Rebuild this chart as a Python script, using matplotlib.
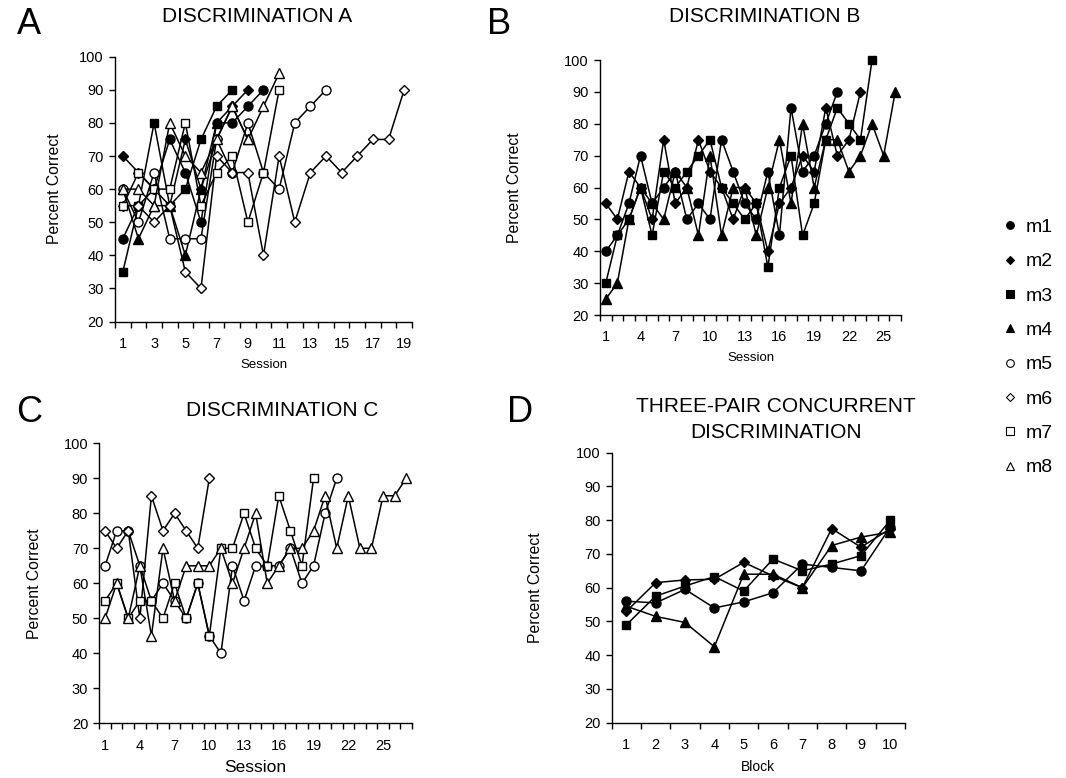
import numpy as np
import matplotlib
matplotlib.use("Agg")
import matplotlib.pyplot as plt
from matplotlib.lines import Line2D

plt.rcParams['font.family'] = ['Liberation Sans', 'DejaVu Sans']

# ---- Discrimination A (sessions) ----
a_m1 = [45, 55, 60, 75, 65, 50, 80, 80, 85, 90]
a_m2 = [70, 65, 60, 55, 75, 60, 75, 85, 90]
a_m3 = [35, 55, 80, 55, 60, 75, 85, 90]
a_m4 = [60, 45, 55, 55, 40, 60, 80, 85, 75]
a_m5 = [60, 50, 65, 45, 45, 45, 75, 65, 80, 65, 60, 80, 85, 90]
a_m6 = [55, 55, 50, 55, 35, 30, 70, 65, 65, 40, 70, 50, 65, 70, 65, 70, 75, 75, 90]
a_m7 = [55, 65, 60, 60, 80, 55, 65, 70, 50, 65, 90]
a_m8 = [60, 60, 55, 80, 70, 65, 75, 85, 75, 85, 95]

# ---- Discrimination B (sessions) ----
b_m1 = [40, 45, 55, 70, 55, 60, 65, 50, 55, 50, 75, 65, 55, 50, 65, 45, 85, 65, 70, 80, 90]
b_m2 = [55, 50, 65, 60, 50, 75, 55, 60, 75, 65, 60, 50, 60, 55, 40, 55, 60, 70, 65, 85, 70, 75, 90]
b_m3 = [30, 45, 50, 60, 45, 65, 60, 65, 70, 75, 60, 55, 50, 55, 35, 60, 70, 45, 55, 75, 85, 80,
        75, 100]
b_m4 = [25, 30, 50, 60, 55, 50, 65, 60, 45, 70, 45, 60, 60, 45, 60, 75, 55, 80, 60, 75, 75, 65,
        70, 80, 70, 90]

# ---- Discrimination C (sessions) ----
c_m5 = [65, 75, 75, 65, 55, 60, 55, 50, 60, 45, 40, 65, 55, 65, 65, 65, 70, 60, 65, 80, 90]
c_m6 = [75, 70, 75, 50, 85, 75, 80, 75, 70, 90]
c_m7 = [55, 60, 50, 55, 55, 50, 60, 50, 60, 45, 70, 70, 80, 70, 65, 85, 75, 65, 90]
c_m8 = [50, 60, 50, 65, 45, 70, 55, 65, 65, 65, 70, 60, 70, 80, 60, 65, 70, 70, 75, 85, 70, 85,
        70, 70, 85, 85, 90]

# ---- Three-pair concurrent discrimination (blocks) ----
d_m1 = [56, 55.5, 59.5, 54, 55.8, 58.5, 67, 66, 65, 78]
d_m2 = [53, 61.5, 62.3, 62.5, 67.5, 63.5, 60, 77.5, 72, 77.5]
d_m3 = [49, 57.5, 60.5, 63.3, 59, 68.5, 65, 67, 69.5, 80]
d_m4 = [54.5, 51.5, 49.7, 42.5, 64, 64, 60, 72.5, 75, 76.5]

subjects = ['m1', 'm2', 'm3', 'm4', 'm5', 'm6', 'm7', 'm8']

# marker style per subject
styles = {
    'm1': ('o', True), 'm2': ('D', True), 'm3': ('s', True), 'm4': ('^', True),
    'm5': ('o', False), 'm6': ('D', False), 'm7': ('s', False), 'm8': ('^', False),
}
msize = {'o': 6.5, 'D': 5.2, 's': 6.0, '^': 6.5}

W, H = 1066, 778
fig = plt.figure(figsize=(W / 100, H / 100), dpi=100)


def px_axes(x0, x1, ytop, ybot):
    return fig.add_axes([x0 / W, 1 - ybot / H, (x1 - x0) / W, (ybot - ytop) / H])


def draw(ax, series, n, label_pos, xlabel, xlab_fs):
    for name, vals in series:
        mk, filled = styles[name]
        x = np.arange(1, len(vals) + 1)
        ax.plot(x, vals, color='black', lw=1.1, marker=mk, ms=msize[mk],
                mfc='black' if filled else 'white', mec='black', mew=1.0,
                clip_on=False, zorder=3)
    ax.set_xlim(0.5, n + 0.5)
    ax.set_ylim(20, 100)
    ax.set_yticks(range(20, 101, 10))
    # category axis: ticks between categories, labels centred on them
    ax.set_xticks(np.arange(0.5, n + 1, 1.0))
    ax.set_xticklabels([])
    ax.set_xticks(label_pos, minor=True)
    ax.set_xticklabels([str(v) for v in label_pos], minor=True)
    ax.tick_params(axis='x', which='major', direction='out', length=4, width=1)
    ax.tick_params(axis='x', which='minor', length=0, pad=11, labelsize=10.5)
    ax.tick_params(axis='y', direction='out', length=4, width=1, pad=4, labelsize=10.5)
    for s in ('top', 'right'):
        ax.spines[s].set_visible(False)
    for s in ('left', 'bottom'):
        ax.spines[s].set_linewidth(1.0)
    ax.set_xlabel(xlabel, fontsize=xlab_fs)
    ax.set_ylabel('Percent Correct', fontsize=11.3)


axA = px_axes(115, 412, 56.7, 321.5)
draw(axA, [(m, v) for m, v in zip(subjects, [a_m1, a_m2, a_m3, a_m4, a_m5, a_m6, a_m7, a_m8])],
     19, list(range(1, 20, 2)), 'Session', 9.5)

axB = px_axes(600, 901, 60, 315)
draw(axB, [('m1', b_m1), ('m2', b_m2), ('m3', b_m3), ('m4', b_m4)],
     26, list(range(1, 26, 3)), 'Session', 9.5)

axC = px_axes(99.3, 412, 443.3, 723.3)
draw(axC, [('m5', c_m5), ('m6', c_m6), ('m7', c_m7), ('m8', c_m8)],
     27, list(range(1, 26, 3)), 'Session', 12.5)

axD = px_axes(611.7, 905, 452.7, 722.7)
draw(axD, [('m1', d_m1), ('m2', d_m2), ('m3', d_m3), ('m4', d_m4)],
     10, list(range(1, 11)), 'Block', 10)

# label placement (axes coordinates)
for ax, x0, w, ylab_x in [(axA, 115, 297, 62), (axB, 600, 301, 522),
                          (axC, 99.3, 312.7, 42), (axD, 611.7, 293.3, 543)]:
    ax.yaxis.set_label_coords((ylab_x - x0) / w, 0.5)
for ax, h in [(axA, 264.8), (axB, 255), (axC, 280), (axD, 270)]:
    ax.xaxis.set_label_coords(0.5, -37 / h)

# titles and panel letters
tfs = 15
fig.text(257 / W, 1 - 16 / H, 'DISCRIMINATION A', ha='center', va='center', fontsize=tfs)
fig.text(765 / W, 1 - 16 / H, 'DISCRIMINATION B', ha='center', va='center', fontsize=tfs)
fig.text(282 / W, 1 - 410 / H, 'DISCRIMINATION C', ha='center', va='center', fontsize=tfs)
fig.text(776 / W, 1 - 407 / H, 'THREE-PAIR CONCURRENT', ha='center', va='center', fontsize=tfs)
fig.text(776 / W, 1 - 432 / H, 'DISCRIMINATION', ha='center', va='center', fontsize=tfs)
fig.text(29 / W, 1 - 25 / H, 'A', ha='center', va='center', fontsize=26)
fig.text(499 / W, 1 - 25 / H, 'B', ha='center', va='center', fontsize=26)
fig.text(29 / W, 1 - 413 / H, 'C', ha='center', va='center', fontsize=26)
fig.text(520 / W, 1 - 413 / H, 'D', ha='center', va='center', fontsize=26)

# legend
handles = []
for name in subjects:
    mk, filled = styles[name]
    handles.append(Line2D([], [], ls='none', marker=mk, ms=msize[mk] * 0.85, color='black',
                          mfc='black' if filled else 'white', mec='black', mew=0.8))
fig.legend(handles, subjects,
           loc='center left', bbox_to_anchor=(1002 / W, 1 - 347.5 / H), frameon=False,
           fontsize=14, labelspacing=0.86, handlelength=0.8, handletextpad=0.4,
           borderpad=0, borderaxespad=0)

fig.savefig('out.png', dpi=100)
